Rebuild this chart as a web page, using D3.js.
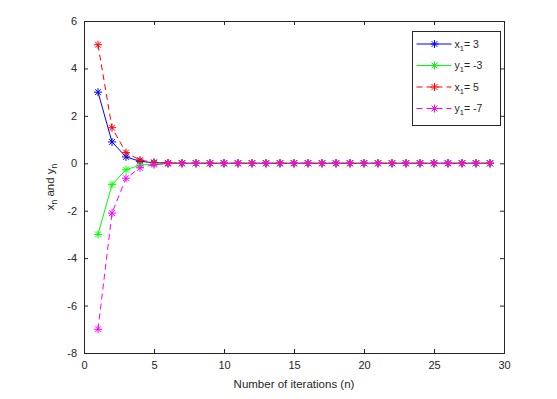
<!DOCTYPE html>
<html lang="en">
<head>
  <meta charset="UTF-8" />
  <title>Iterations</title>
  <script src="https://d3js.org/d3.v7.min.js"></script>
  <style>
    body { margin: 0; background: #ffffff; }
    svg text { font-family: 'Liberation Sans', Arial, sans-serif; fill: #262626; }
    .tick-label { font-size: 11px; }
    .axis-title { font-size: 11.5px; }
    .legend-text { font-size: 10.5px; }
  </style>
</head>
<body>
  <div id="chart"></div>
  <script>
    // iteration index n
    const iterations = [1, 2, 3, 4, 5, 6, 7, 8, 9, 10, 11, 12, 13, 14, 15, 16, 17, 18, 19, 20,
      21, 22, 23, 24, 25, 26, 27, 28, 29];

    // values
    const xStart3 = [3, 0.9, 0.27, 0.08, 0.024, 0.007, 0.002, 0.0007, 0.0002, 0, 0, 0, 0, 0, 0,
      0, 0, 0, 0, 0, 0, 0, 0, 0, 0, 0, 0, 0, 0];
    const yStartM3 = [-3, -0.9, -0.27, -0.08, -0.024, -0.007, -0.002, -0.0007, -0.0002, 0, 0, 0,
      0, 0, 0, 0, 0, 0, 0, 0, 0, 0, 0, 0, 0, 0, 0, 0, 0];
    const xStart5 = [5, 1.5, 0.45, 0.135, 0.04, 0.012, 0.004, 0.001, 0.0003, 0, 0, 0, 0, 0, 0,
      0, 0, 0, 0, 0, 0, 0, 0, 0, 0, 0, 0, 0, 0];
    const yStartM7 = [-7, -2.1, -0.63, -0.19, -0.057, -0.017, -0.005, -0.0015, -0.0005, 0, 0, 0,
      0, 0, 0, 0, 0, 0, 0, 0, 0, 0, 0, 0, 0, 0, 0, 0, 0];

    const xTicks = [0, 5, 10, 15, 20, 25, 30];
    const yTicks = [-8, -6, -4, -2, 0, 2, 4, 6];

    const series = [
      { name: "x", sub: "1", val: "= 3", values: xStart3, color: "#0000ff", dash: null },
      { name: "y", sub: "1", val: "= -3", values: yStartM3, color: "#00ff00", dash: null },
      { name: "x", sub: "1", val: "= 5", values: xStart5, color: "#ff0000", dash: "6,4" },
      { name: "y", sub: "1", val: "= -7", values: yStartM7, color: "#ff00ff", dash: "6,4" }
    ];

    function drawChart() {
      const svgWidth = 557, svgHeight = 399;
      const margin = { top: 21, right: 53, bottom: 46, left: 84 };
      const width = svgWidth - margin.left - margin.right;
      const height = svgHeight - margin.top - margin.bottom;

      const svg = d3.select("#chart").append("svg")
        .attr("width", svgWidth)
        .attr("height", svgHeight);

      svg.append("rect").attr("width", svgWidth).attr("height", svgHeight).attr("fill", "#fff");

      const g = svg.append("g").attr("transform", `translate(${margin.left},${margin.top})`);

      const x = d3.scaleLinear().domain([0, 30]).range([0, width]);
      const y = d3.scaleLinear().domain([-8, 6]).range([height, 0]);

      // plain hyphen for negatives, like the original
      const fmt = d => String(d);

      // axes with inward ticks, box on
      const axisColor = "#262626";
      const bottom = g.append("g").attr("transform", `translate(0,${height})`)
        .call(d3.axisBottom(x).tickValues(xTicks).tickSize(-4).tickPadding(8).tickFormat(fmt));
      const top = g.append("g")
        .call(d3.axisTop(x).tickValues(xTicks).tickSize(-4).tickFormat(""));
      const left = g.append("g")
        .call(d3.axisLeft(y).tickValues(yTicks).tickSize(-4).tickPadding(7).tickFormat(fmt));
      const right = g.append("g").attr("transform", `translate(${width},0)`)
        .call(d3.axisRight(y).tickValues(yTicks).tickSize(-4).tickFormat(""));

      [bottom, top, left, right].forEach(a => {
        a.select(".domain").attr("stroke", axisColor).attr("stroke-width", 1);
        a.selectAll(".tick line").attr("stroke", axisColor);
        a.selectAll(".tick text").attr("class", "tick-label").attr("fill", axisColor)
          .style("font-family", "'Liberation Sans', Arial, sans-serif");
      });

      const line = d3.line().x((d, i) => x(iterations[i])).y(d => y(d));

      series.forEach(s => {
        g.append("path")
          .datum(s.values)
          .attr("fill", "none")
          .attr("stroke", s.color)
          .attr("stroke-width", 1)
          .attr("stroke-dasharray", s.dash)
          .attr("d", line);

        s.values.forEach((v, i) => {
          drawStar(g, x(iterations[i]), y(v), s.color);
        });
      });

      // axis titles
      svg.append("text")
        .attr("class", "axis-title")
        .attr("x", margin.left + width / 2)
        .attr("y", 388)
        .attr("text-anchor", "middle")
        .text("Number of iterations (n)");

      const yl = svg.append("text")
        .attr("class", "axis-title")
        .attr("transform", `translate(54,${margin.top + height / 2}) rotate(-90)`)
        .attr("text-anchor", "middle");
      yl.append("tspan").text("x");
      yl.append("tspan").attr("dy", 3).attr("font-size", "8.5px").text("n");
      yl.append("tspan").attr("dy", -3).text(" and y");
      yl.append("tspan").attr("dy", 3).attr("font-size", "8.5px").text("n");

      drawLegend(svg);
    }

    function drawStar(g, cx, cy, color) {
      const r = 4, d = 2.9;
      const p = `M${cx - r},${cy}L${cx + r},${cy}M${cx},${cy - r}L${cx},${cy + r}` +
        `M${cx - d},${cy - d}L${cx + d},${cy + d}M${cx - d},${cy + d}L${cx + d},${cy - d}`;
      g.append("path").attr("d", p).attr("stroke", color).attr("stroke-width", 1).attr("fill", "none");
    }

    function drawLegend(svg) {
      const lx = 412.5, ly = 31.5, lw = 88, lh = 94;
      svg.append("rect")
        .attr("x", lx).attr("y", ly).attr("width", lw).attr("height", lh)
        .attr("fill", "#fff").attr("stroke", "#262626").attr("stroke-width", 1);

      const items = svg.selectAll(".legend-item")
        .data(series)
        .enter()
        .append("g")
        .attr("class", "legend-item")
        .attr("transform", (d, i) => `translate(${lx},${ly + 12.5 + i * 21.5})`);

      items.append("line")
        .attr("x1", 4).attr("x2", 39).attr("y1", 0).attr("y2", 0)
        .attr("stroke", d => d.color)
        .attr("stroke-dasharray", d => d.dash);

      items.each(function (d) {
        drawStar(d3.select(this), 22, 0, d.color);
      });

      const t = items.append("text")
        .attr("class", "legend-text")
        .attr("x", 42)
        .attr("y", 3.5);
      t.append("tspan").text(d => d.name);
      t.append("tspan").attr("dy", 3).attr("font-size", "7.5px").text(d => d.sub);
      t.append("tspan").attr("dy", -3).text(d => d.val);
    }

    drawChart();
  </script>
</body>
</html>
